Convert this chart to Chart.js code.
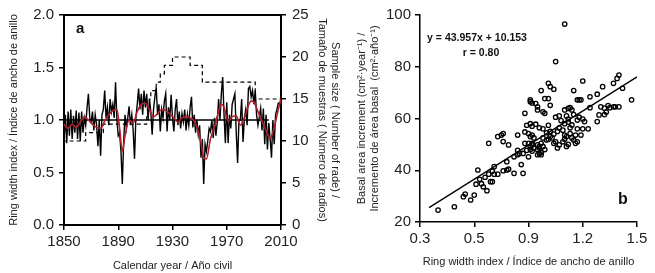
<!DOCTYPE html>
<html>
<head>
<meta charset="utf-8">
<script src="https://cdn.jsdelivr.net/npm/chart.js@4"></script>
<style>
  html, body { margin: 0; padding: 0; background: #fff; }
  .wrap { position: relative; width: 655px; height: 273px; }
  #chartA { position: absolute; left: 0; top: 0; }
  #chartB { position: absolute; left: 345px; top: 0; }
</style>
</head>
<body>
<div class="wrap">
  <canvas id="chartA" width="345" height="273"></canvas>
  <canvas id="chartB" width="310" height="273"></canvas>
</div>
<script>
// panel a: ring width index 1850-2010
const firstYear = 1850;
const ringIndex = [
  0.80, 1.05, 0.78, 1.08, 0.85, 1.10, 0.82, 1.04, 0.88, 1.09,
  0.82, 1.07, 0.80, 1.08, 0.88, 1.02, 0.95, 1.12, 1.25, 1.02,
  0.98, 1.08, 0.90, 1.05, 0.96, 0.75, 1.00, 0.66, 1.05, 1.10,
  1.28, 1.02, 1.12, 0.95, 1.20, 1.08, 1.15, 1.02, 1.36, 1.00,
  0.85, 0.88, 0.70, 0.39, 0.80, 1.05, 0.92, 1.02, 1.13, 0.95,
  1.05, 0.90, 0.63, 1.02, 1.15, 1.30, 1.10, 1.25, 1.05, 1.28,
  1.12, 1.25, 1.00, 1.20, 1.08, 0.86, 1.10, 1.22, 1.31, 1.05,
  1.15, 0.89, 1.10, 1.02, 1.18, 1.25, 0.89, 1.12, 1.00, 1.24,
  1.02, 0.89, 1.10, 1.20, 0.95, 1.08, 0.92, 1.06, 0.98, 1.10,
  0.90, 1.05, 0.95, 1.12, 1.22, 0.93, 1.05, 0.88, 1.00, 0.86,
  0.95, 0.64, 0.82, 0.39, 0.77, 0.70, 0.80, 0.92, 0.89, 1.00,
  0.83, 1.02, 0.85, 0.98, 1.20, 1.00, 1.25, 1.41, 1.05, 0.78,
  1.17, 0.78, 1.05, 0.92, 1.15, 1.20, 1.25, 0.88, 0.59, 1.00,
  1.00, 1.20, 0.79, 1.02, 1.10, 0.95, 1.30, 1.32, 1.22, 1.28,
  1.15, 1.28, 1.05, 0.95, 1.03, 1.11, 0.90, 1.11, 0.77, 1.05,
  0.72, 0.97, 0.82, 0.64, 1.00, 0.77, 1.05, 1.10, 1.16, 1.15,
  1.20
];
const redYears = [1850, 1853, 1856, 1859, 1862, 1865, 1868, 1871, 1874, 1877,
  1880, 1883, 1886, 1889, 1891, 1893, 1895, 1898, 1901, 1904,
  1907, 1910, 1913, 1916, 1919, 1922, 1925, 1928, 1931, 1934,
  1937, 1940, 1943, 1946, 1949, 1951, 1953, 1955, 1958, 1961,
  1964, 1966, 1968, 1971, 1974, 1977, 1980, 1983, 1986, 1988,
  1990, 1993, 1996, 1999, 2002, 2005, 2008, 2010];
const redValues = [0.96, 0.92, 0.96, 0.93, 0.98, 1.03, 1.00, 0.96, 0.93, 0.92,
  0.99, 1.05, 1.09, 1.10, 0.92, 0.70, 0.85, 1.00, 0.97, 1.08,
  1.15, 1.16, 1.10, 1.03, 1.06, 1.10, 1.09, 1.06, 1.02, 0.98,
  1.02, 1.03, 1.02, 0.99, 0.89, 0.78, 0.64, 0.63, 0.82, 0.94,
  1.08, 1.15, 1.12, 0.99, 1.03, 1.04, 0.95, 1.02, 1.14, 1.18,
  1.17, 1.08, 0.99, 0.90, 0.82, 0.93, 1.10, 1.20];
const sampleYears = [1850, 1866, 1879, 1911, 1912, 1913, 1914, 1918, 1921, 1924, 1930, 1943, 1952, 1991, 2000, 2010];
const sampleSize = [9, 10, 11, 12, 13, 14, 15, 16, 17, 18, 19, 20, 19, 17, 15, 15];
const refYears = [1850, 2001];
const refValue = 1.0;
const xTickYears = [1850, 1890, 1930, 1970, 2010];

// panel b: basal area increment vs ring width index
const basalX = [
  0.40, 0.49, 0.54, 0.55, 0.58, 0.60, 0.61, 0.62, 0.63, 0.64,
  0.65, 0.67, 0.66, 0.68, 0.70, 0.71, 0.71, 0.73, 0.68, 0.73,
  0.75, 0.76, 0.76, 0.79, 0.76, 0.78, 0.79, 0.78, 0.82, 0.82,
  0.84, 0.84, 0.85, 0.87, 0.86, 0.88, 0.88, 0.88, 0.89, 0.90,
  0.91, 0.92, 0.92, 0.92, 0.91, 0.87, 0.89, 0.69, 0.70, 0.84,
  1.10, 1.05, 1.40, 1.39, 1.37, 1.42, 1.47, 1.01, 1.02, 1.04,
  0.97, 1.20, 1.15, 1.24, 1.28, 1.31, 1.17, 1.18, 1.19, 0.91,
  0.94, 0.95, 0.99, 1.01, 1.02, 0.95, 0.98, 0.99, 1.10, 1.12,
  1.13, 1.14, 1.24, 1.30, 1.32, 1.34, 1.35, 1.37, 1.38, 1.40,
  1.33, 1.32, 1.29, 1.05, 1.07, 1.08, 1.11, 1.12, 1.15, 1.18,
  1.20, 1.21, 1.17, 1.10, 1.12, 1.13, 1.14, 0.91, 0.92, 0.94,
  0.96, 0.98, 1.01, 1.02, 1.04, 1.06, 1.07, 1.09, 1.10, 1.11,
  1.13, 1.14, 1.16, 1.17, 1.19, 1.20, 1.23, 1.28, 0.90, 0.91,
  0.93, 0.90, 0.92, 0.93, 0.95, 0.96, 0.97, 0.98, 1.00, 1.02,
  1.03, 1.04, 1.05, 1.06, 1.07, 1.09, 1.10, 1.11, 1.12, 1.15,
  1.16, 1.17, 0.95, 0.96, 0.98, 0.99, 0.95, 0.96, 0.97, 0.91,
  0.92, 1.00, 1.01, 0.97
];
const basalY = [
  24.6, 25.9, 29.8, 30.8, 28.5, 30.4, 34.6, 40.1, 36.5, 34.8,
  33.6, 32.1, 37.3, 38.5, 35.6, 41.4, 38.5, 38.5, 50.4, 53.0,
  53.6, 54.2, 51.1, 49.8, 39.8, 40.1, 40.4, 43.3, 38.8, 45.2,
  53.6, 47.7, 46.5, 38.8, 42.2, 50.4, 54.8, 62.0, 57.4, 45.2,
  67.2, 66.0, 50.4, 53.6, 49.1, 46.5, 47.7, 35.6, 39.6, 46.0,
  96.5, 82.0, 76.8, 75.5, 73.6, 71.7, 67.2, 73.6, 72.3, 71.3,
  70.8, 74.5, 70.8, 68.4, 69.4, 72.3, 67.2, 67.2, 67.2, 66.5,
  65.8, 64.5, 67.7, 67.7, 65.1, 63.3, 62.6, 62.0, 63.3, 63.9,
  64.2, 63.3, 64.2, 64.5, 64.0, 65.0, 64.2, 64.5, 64.5, 64.5,
  62.5, 61.5, 61.4, 60.5, 61.0, 59.2, 61.0, 59.8, 61.5, 60.5,
  59.8, 58.8, 59.4, 58.0, 58.6, 56.4, 57.5, 58.0, 57.0, 57.8,
  56.4, 56.0, 57.4, 55.0, 54.0, 55.0, 56.4, 55.5, 53.6, 53.0,
  54.2, 52.5, 53.6, 56.0, 53.6, 56.0, 56.0, 58.8, 54.2, 53.0,
  52.5, 50.4, 49.8, 48.6, 49.8, 49.2, 50.4, 52.5, 51.7, 53.0,
  52.5, 50.4, 51.0, 48.6, 49.8, 51.0, 52.0, 49.2, 50.0, 51.7,
  50.4, 51.0, 48.0, 48.6, 49.2, 48.0, 46.0, 46.5, 46.0, 48.0,
  47.4, 54.5, 52.0, 46.9
];
const fitSlope = 43.957;
const fitIntercept = 10.153;
const fitRange = [0.35, 1.5];
const xTicksB = [0.3, 0.6, 0.9, 1.2, 1.5];
const xTickLabelsB = ["0.3", "0.5", "0.9", "1.2", "1.5"];

Chart.defaults.font.family = "'Liberation Sans', Arial, sans-serif";
Chart.defaults.color = "#222";
Chart.defaults.animation = false;

const tickFont = { size: 15 };
const titleFont = { size: 11 };

const chartA = new Chart(document.getElementById("chartA"), {
  type: "line",
  data: {
    datasets: [
      {
        data: redYears.map((yr, i) => ({ x: yr, y: redValues[i] })),
        borderColor: "#b3202c",
        borderWidth: 1.6,
        pointRadius: 0,
        cubicInterpolationMode: "monotone",
        yAxisID: "y",
      },
      {
        data: ringIndex.map((v, i) => ({ x: firstYear + i, y: v })),
        borderColor: "#000",
        borderWidth: 1.4,
        pointRadius: 0,
        yAxisID: "y",
      },
      {
        data: refYears.map((yr) => ({ x: yr, y: refValue })),
        borderColor: "#000",
        borderWidth: 1.5,
        pointRadius: 0,
        yAxisID: "y",
      },
      {
        data: sampleYears.map((yr, i) => ({ x: yr, y: sampleSize[i] })),
        borderColor: "#000",
        borderWidth: 1.2,
        borderDash: [4, 3],
        stepped: "after",
        pointRadius: 0,
        yAxisID: "y2",
      },
    ],
  },
  options: {
    responsive: false,
    layout: { padding: { top: 12, left: 0, right: 0, bottom: 0 } },
    plugins: { legend: { display: false }, tooltip: { enabled: false } },
    scales: {
      x: {
        type: "linear",
        min: 1850,
        max: 2010,
        afterBuildTicks: (s) => { s.ticks = xTickYears.map((v) => ({ value: v })); },
        ticks: { font: tickFont, maxRotation: 0, padding: 3, callback: (v) => String(v) },
        grid: { drawOnChartArea: false, tickLength: 5, color: "#000", lineWidth: 1.5 },
        border: { color: "#000", width: 2 },
        title: { display: true, text: "Calendar year / Año civil", font: titleFont, padding: { top: 0, bottom: 0 } },
        afterFit: (s) => { s.height = 48; },
      },
      y: {
        min: 0,
        max: 2,
        ticks: { stepSize: 0.5, font: tickFont, padding: 5, callback: (v) => v.toFixed(1) },
        grid: { drawOnChartArea: false, tickLength: 5, color: "#000", lineWidth: 1.5 },
        border: { color: "#000", width: 2 },
        title: { display: true, text: "Ring width index / Índice de ancho de anillo", font: titleFont, padding: { top: 7, bottom: 0 } },
        afterFit: (s) => { s.width = 64; },
      },
      y2: {
        position: "right",
        min: 0,
        max: 25,
        ticks: { stepSize: 5, font: tickFont, padding: 6 },
        grid: { drawOnChartArea: false, tickLength: 5, color: "#000", lineWidth: 1.5 },
        border: { color: "#000", width: 2 },
        title: {
          display: true,
          text: ["Sample size ( Number of rade) /", "Tamaño de muestras ( Número de radios)"],
          font: titleFont,
          padding: { top: 3, bottom: 0 },
        },
        afterFit: (s) => { s.width = 64; },
      },
    },
  },
  plugins: [{
    id: "frameA",
    afterDraw(chart) {
      const { ctx, chartArea } = chart;
      ctx.save();
      ctx.strokeStyle = "#000";
      ctx.lineWidth = 2;
      ctx.beginPath();
      ctx.moveTo(chartArea.left, chartArea.top);
      ctx.lineTo(chartArea.right, chartArea.top);
      ctx.stroke();
      ctx.fillStyle = "#111";
      ctx.font = "bold 15px 'Liberation Sans', Arial, sans-serif";
      ctx.textBaseline = "middle";
      ctx.fillText("a", chartArea.left + 12, chartArea.top + 14);
      ctx.restore();
    },
  }],
});

const chartB = new Chart(document.getElementById("chartB"), {
  type: "scatter",
  data: {
    datasets: [
      {
        type: "line",
        data: fitRange.map((x) => ({ x: x, y: fitSlope * x + fitIntercept })),
        borderColor: "#000",
        borderWidth: 1.3,
        pointRadius: 0,
      },
      {
        data: basalX.map((x, i) => ({ x: x, y: basalY[i] })),
        pointRadius: 2.2,
        pointBorderWidth: 1.3,
        pointBorderColor: "#000",
        pointBackgroundColor: "rgba(255,255,255,0)",
      },
    ],
  },
  options: {
    responsive: false,
    layout: { padding: { top: 15, left: 0, right: 18, bottom: 0 } },
    plugins: { legend: { display: false }, tooltip: { enabled: false } },
    scales: {
      x: {
        type: "linear",
        min: 0.3,
        max: 1.5,
        afterBuildTicks: (s) => { s.ticks = xTicksB.map((v) => ({ value: v })); },
        ticks: { font: tickFont, maxRotation: 0, padding: 3, callback: (v) => xTickLabelsB[xTicksB.indexOf(v)] },
        grid: { drawOnChartArea: false, tickLength: 5, color: "#000", lineWidth: 1.5 },
        border: { color: "#000", width: 1.5 },
        title: { display: true, text: "Ring width index / Índice de ancho de anillo", font: titleFont, padding: { top: 0, bottom: 4 } },
        afterFit: (s) => { s.height = 51; },
      },
      y: {
        min: 20,
        max: 100,
        ticks: { stepSize: 20, font: tickFont, padding: 4 },
        grid: { drawOnChartArea: false, tickLength: 5, color: "#000", lineWidth: 1.5 },
        border: { color: "#000", width: 1.5 },
        title: {
          display: true,
          text: ["Basal area increment (cm²·year⁻¹) /", "Incremento de área basal  (cm²·año⁻¹)"],
          font: titleFont,
          padding: { top: 10, bottom: 0 },
        },
        afterFit: (s) => { s.width = 75; },
      },
    },
  },
  plugins: [{
    id: "labelsB",
    afterDraw(chart) {
      const { ctx, chartArea } = chart;
      ctx.save();
      ctx.fillStyle = "#111";
      ctx.textAlign = "center";
      ctx.textBaseline = "middle";
      ctx.font = "bold 10.5px 'Liberation Sans', Arial, sans-serif";
      ctx.fillText("y = 43.957x + 10.153", chartArea.left + 57, chartArea.top + 23);
      ctx.fillText("r = 0.80", chartArea.left + 61, chartArea.top + 38);
      ctx.font = "bold 16px 'Liberation Sans', Arial, sans-serif";
      ctx.fillText("b", chartArea.right - 14, chartArea.bottom - 22);
      ctx.restore();
    },
  }],
});
</script>
</body>
</html>
